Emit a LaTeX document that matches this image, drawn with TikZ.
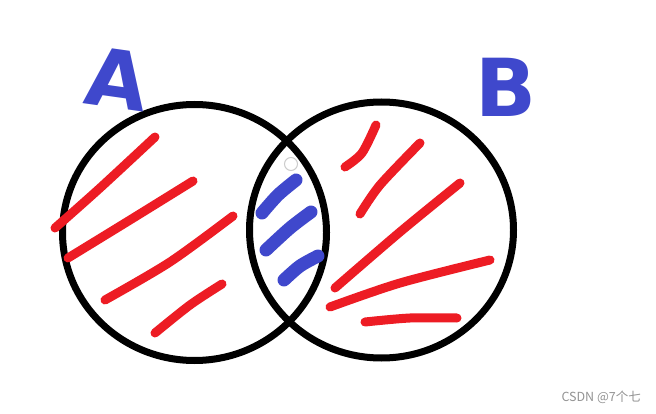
\documentclass[tikz,border=0pt]{standalone}
\usepackage{fontspec}
\setsansfont{DejaVu Sans}
\newfontfamily\cjk{Noto Sans CJK SC}
\definecolor{rcol}{RGB}{237,28,36}
\definecolor{bcol}{RGB}{63,72,204}
\tikzset{ring/.style={draw=black,line width=7pt}}
\tikzset{redstroke/.style={rcol,line width=9pt,line cap=round,line join=round}}
\tikzset{bluestroke/.style={bcol,line width=13pt,line cap=round,line join=round}}
\tikzset{letter/.style={bcol,font=\sffamily\bfseries\fontsize{80}{80}\selectfont,inner sep=0pt}}
\tikzset{wmark/.style={font=\cjk\fontsize{12.5}{12.5}\selectfont,text=gray!85,inner sep=0pt}}

\begin{document}
\begin{tikzpicture}[x=1pt,y=-1pt]
\useasboundingbox[fill=white] (0,0) rectangle (656,414);

% the two sets
\draw [ring] (194.5,232.5) ellipse [x radius=132, y radius=128];
\draw [ring] (381.5,230) ellipse [x radius=132, y radius=128];

% labels
\node [letter,rotate=-8] (la) at (117,79) {A};
\node [letter] (lb) at (506,87) {B};

% hatching of A
\draw [redstroke] plot [smooth] coordinates {(55,228) (100,188) (155,137)};
\draw [redstroke] plot [smooth] coordinates {(68,258) (130,220) (193,181)};
\draw [redstroke] plot [smooth] coordinates {(105,300) (170,262) (233,216)};
\draw [redstroke] plot [smooth] coordinates {(155,333) (190,305) (222,284)};

% hatching of B
\draw [redstroke] plot [smooth] coordinates {(345,167) (362,153) (376,125)};
\draw [redstroke] plot [smooth] coordinates {(360,214) (380,185) (420,143)};
\draw [redstroke] plot [smooth] coordinates {(335,288) (400,232) (460,183)};
\draw [redstroke] plot [smooth] coordinates {(330,307) (400,283) (490,260)};
\draw [redstroke] plot [smooth] coordinates {(365,322) (410,318) (457,318)};

% the intersection
\draw [bluestroke] plot [smooth] coordinates {(262,213) (278,195) (296,180)};
\draw [bluestroke] plot [smooth] coordinates {(266,250) (290,228) (311,212)};
\draw [bluestroke] plot [smooth] coordinates {(284,280) (300,266) (318,256)};

\node [circle,draw=gray!40,line width=1pt,minimum size=13pt,inner sep=0pt] (dot) at (291,164) {};

\node [wmark,anchor=east] (wm) at (641,397) {CSDN @7个七};
\end{tikzpicture}
\end{document}
